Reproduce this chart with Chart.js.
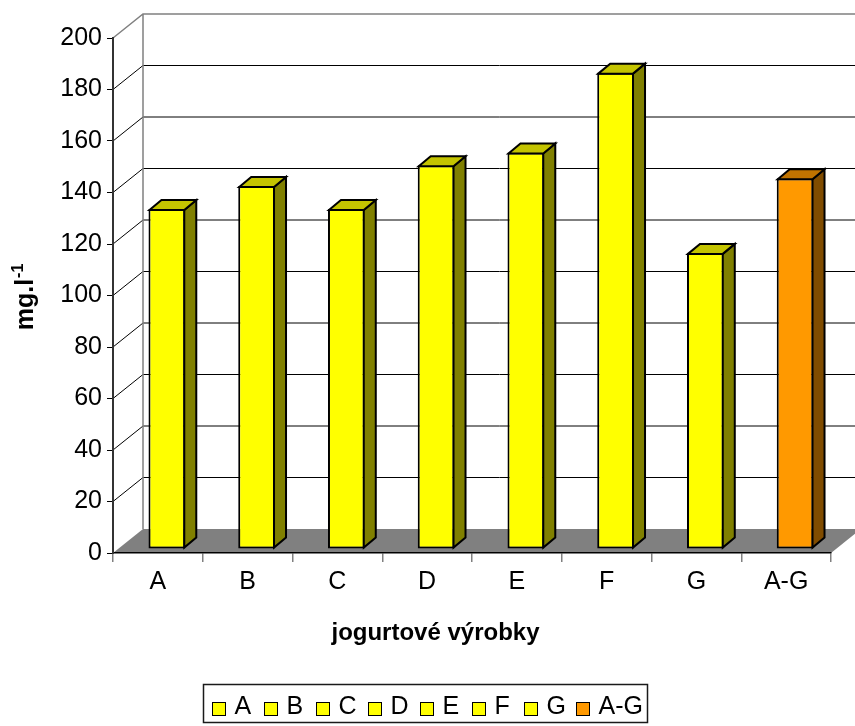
<!DOCTYPE html>
<html>
<head>
<meta charset="utf-8">
<title>jogurtové výrobky</title>
<style>
  html, body { margin: 0; padding: 0; background: #ffffff; }
  #c { display: block; }
</style>
<script src="https://cdn.jsdelivr.net/npm/chart.js@4/dist/chart.umd.min.js"></script>
</head>
<body>
<canvas id="c" width="855" height="726"></canvas>
<script>
// Data
const categories = ['A', 'B', 'C', 'D', 'E', 'F', 'G', 'A-G'];
const values = [132, 141, 132, 149, 154, 185, 115, 144];
const yMin = 0;
const yMax = 200;
const yStep = 20;

// Colours: front, top and side faces of each column
const faceColors = ['#FFFF00', '#FFFF00', '#FFFF00', '#FFFF00', '#FFFF00', '#FFFF00', '#FFFF00', '#FF9900'];
const topColors  = ['#C4C400', '#C4C400', '#C4C400', '#C4C400', '#C4C400', '#C4C400', '#C4C400', '#C07300'];
const sideColors = ['#808000', '#808000', '#808000', '#808000', '#808000', '#808000', '#808000', '#804C00'];

const xTitle = 'jogurtové výrobky';
const yTitle = 'mg.l';
const yTitleSup = '-1';

const FONT = "'Liberation Sans', Arial, Helvetica, sans-serif";

// Oblique depth of the plot box (floor / side wall) and of the columns
const WALL_DX = 30, WALL_DY = -24;
const BAR_DX = 9, BAR_DY = -4;     // front plane of the columns
const BAR_SX = 12, BAR_SY = -10;   // column depth

function poly(ctx, pts) {
  ctx.beginPath();
  ctx.moveTo(pts[0][0], pts[0][1]);
  for (let i = 1; i < pts.length; i++) ctx.lineTo(pts[i][0], pts[i][1]);
  ctx.closePath();
}

const depthPlugin = {
  id: 'depth3d',
  beforeDraw(chart) {
    const { ctx, chartArea: a, scales: { y } } = chart;
    const y0 = y.getPixelForValue(yMin);
    const yT = y.getPixelForValue(yMax);
    ctx.save();
    // floor
    ctx.fillStyle = '#808080';
    poly(ctx, [[a.left, y0], [a.left + WALL_DX, y0 + WALL_DY], [a.right + WALL_DX, y0 + WALL_DY], [a.right, y0]]);
    ctx.fill();
    // gridlines on side wall and back wall
    ctx.strokeStyle = '#000000';
    ctx.lineWidth = 1;
    y.ticks.forEach(t => {
      if (t.value <= yMin || t.value >= yMax) return;
      const py = y.getPixelForValue(t.value);
      ctx.beginPath();
      ctx.moveTo(a.left, py);
      ctx.lineTo(a.left + WALL_DX, py + WALL_DY);
      ctx.lineTo(a.right + WALL_DX, py + WALL_DY);
      ctx.stroke();
    });
    // wall edges
    ctx.strokeStyle = '#808080';
    ctx.lineWidth = 1.5;
    ctx.beginPath();
    ctx.moveTo(a.left, yT);
    ctx.lineTo(a.left + WALL_DX, yT + WALL_DY);
    ctx.lineTo(a.right + WALL_DX, yT + WALL_DY);
    ctx.moveTo(a.left + WALL_DX, yT + WALL_DY);
    ctx.lineTo(a.left + WALL_DX, y0 + WALL_DY);
    ctx.stroke();
    ctx.restore();
  },
  beforeDatasetsDraw(chart) {
    chart.ctx.save();
    chart.ctx.translate(BAR_DX, BAR_DY);
  },
  afterDatasetsDraw(chart) {
    const ctx = chart.ctx;
    const meta = chart.getDatasetMeta(0);
    ctx.lineWidth = 2;
    ctx.lineJoin = 'miter';
    ctx.strokeStyle = '#000000';
    meta.data.forEach((el, i) => {
      const p = el.getProps(['x', 'y', 'base', 'width'], true);
      const l = p.x - p.width / 2 + 1, r = p.x + p.width / 2 - 1;
      const t = p.y + 1, b = p.base - 1;
      // side face
      ctx.fillStyle = sideColors[i];
      poly(ctx, [[r, t], [r + BAR_SX, t + BAR_SY], [r + BAR_SX, b + BAR_SY], [r, b]]);
      ctx.fill(); ctx.stroke();
      // top face
      ctx.fillStyle = topColors[i];
      poly(ctx, [[l, t], [l + BAR_SX, t + BAR_SY], [r + BAR_SX, t + BAR_SY], [r, t]]);
      ctx.fill(); ctx.stroke();
    });
    ctx.restore();
  },
  afterDraw(chart) {
    const { ctx, chartArea: a } = chart;
    ctx.save();
    // y axis title, rotated, with superscript
    const cy = (a.top + a.bottom) / 2 + 2;
    ctx.translate(33, cy);
    ctx.rotate(-Math.PI / 2);
    ctx.fillStyle = '#000000';
    ctx.textBaseline = 'alphabetic';
    ctx.textAlign = 'left';
    ctx.font = 'bold 25px ' + FONT;
    const w1 = ctx.measureText(yTitle).width;
    ctx.font = 'bold 16px ' + FONT;
    const w2 = ctx.measureText(yTitleSup).width;
    const sx = -(w1 + w2) / 2;
    ctx.font = 'bold 25px ' + FONT;
    ctx.fillText(yTitle, sx, 0);
    ctx.font = 'bold 16px ' + FONT;
    ctx.fillText(yTitleSup, sx + w1 + 1, -10);
    ctx.restore();

    // x axis title
    ctx.save();
    ctx.fillStyle = '#000000';
    ctx.font = 'bold 24px ' + FONT;
    ctx.textAlign = 'center';
    ctx.textBaseline = 'alphabetic';
    ctx.fillText(xTitle, chart.width / 2 + 8, a.bottom + 87);
    ctx.restore();

    // legend
    ctx.save();
    ctx.font = '25px ' + FONT;
    const step = 52, box = 13, gap = 9, padL = 9, padR = 5;
    const lastW = ctx.measureText(categories[categories.length - 1]).width;
    const lw = padL + (categories.length - 1) * step + box + gap + lastW + padR;
    const lh = 38;
    const lx = Math.round(chart.width / 2 - 2 - lw / 2) + 0.5;
    const ly = a.bottom + 131.5;
    ctx.lineWidth = 1.5;
    ctx.strokeStyle = '#1a1a1a';
    ctx.strokeRect(lx, ly, Math.round(lw), lh);
    ctx.textBaseline = 'alphabetic';
    ctx.textAlign = 'left';
    categories.forEach((c, i) => {
      const bx = lx + padL + i * step;
      ctx.fillStyle = faceColors[i];
      ctx.fillRect(bx, ly + 18, box, box);
      ctx.lineWidth = 1;
      ctx.strokeStyle = '#000000';
      ctx.strokeRect(bx, ly + 18, box, box);
      ctx.fillStyle = '#000000';
      ctx.fillText(c, bx + box + gap, ly + 29);
    });
    ctx.restore();
  }
};

new Chart(document.getElementById('c'), {
  type: 'bar',
  data: {
    labels: categories,
    datasets: [{
      data: values,
      backgroundColor: faceColors,
      borderColor: '#000000',
      borderWidth: 2,
      borderSkipped: false,
      barPercentage: 0.41,
      categoryPercentage: 1.0,
      clip: false
    }]
  },
  plugins: [depthPlugin],
  options: {
    responsive: false,
    devicePixelRatio: 1,
    animation: false,
    layout: { padding: { left: 0, right: 24, top: 38, bottom: 73 } },
    plugins: {
      legend: { display: false },
      tooltip: { enabled: false },
      title: { display: false }
    },
    scales: {
      x: {
        type: 'category',
        offset: true,
        grid: { offset: true, drawOnChartArea: false, drawTicks: true, tickLength: 9, color: '#808080', lineWidth: 1.5 },
        border: { display: true, color: '#000000', width: 1.5 },
        ticks: { color: '#000000', font: { family: FONT, size: 25 }, padding: 5, maxRotation: 0, autoSkip: false },
        afterFit: s => { s.height = 100; }
      },
      y: {
        min: yMin,
        max: yMax,
        grid: { drawOnChartArea: false, drawTicks: true, tickLength: 6, color: '#000000', lineWidth: 1 },
        border: { display: true, color: '#333333', width: 2 },
        ticks: { stepSize: yStep, color: '#000000', font: { family: FONT, size: 25 }, padding: 5 },
        afterFit: s => { s.width = 113; }
      }
    }
  }
});
</script>
</body>
</html>
